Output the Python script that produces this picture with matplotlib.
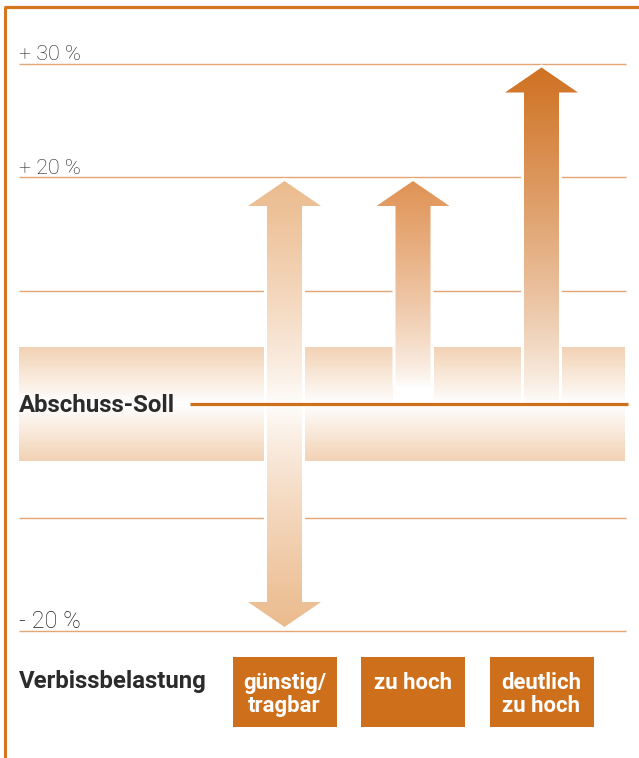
import numpy as np
import matplotlib
matplotlib.use("Agg")
import matplotlib.pyplot as plt
from matplotlib.patches import Polygon, Rectangle
from matplotlib.colors import to_rgb

# ---------------- data ----------------
categories = ["günstig/\ntragbar", "zu hoch", "deutlich\nzu hoch"]
arrow_top = [20, 20, 30]          # % above the Abschuss-Soll
arrow_bottom = [-20, 1.5, 0]      # lower end (negative -> arrow head downwards)
arrow_colors = ["#ebba8c", "#df9152", "#cf7020"]
grid_values = [30, 20, 10, -10, -20]
tick_values = [30, 20, -20]
tick_labels = ["+ 30 %", "+ 20 %", "- 20 %"]
band = [-5, 5]
soll_label = "Abschuss-Soll"
row_label = "Verbissbelastung"

# ---------------- layout (pixels) ----------------
W, H = 639, 758
PXX, PXY = 128.5, 11.35      # px per category, px per percent
X0PX, Y0PX = 284.5, 404.0    # pixel of category 0 / of 0 %

ORANGE = "#ce6f1c"
FRAME = "#d4751f"
GRID = "#e4a574"
BAND_C = "#f2d2b4"
TEXT = "#2b2b2b"
FONT = ["Roboto", "DejaVu Sans"]


def dx(px):
    return px / PXX


def dy(px):
    return px / PXY


def xp(px):
    return (px - X0PX) / PXX


def yp(px):
    return (Y0PX - px) / PXY


fig = plt.figure(figsize=(W / 100, H / 100), dpi=100)
ax = fig.add_axes([0, 0, 1, 1])
ax.set_axis_off()
ax.set_xlim(-X0PX / PXX, (W - X0PX) / PXX)
ax.set_ylim(-(H - Y0PX) / PXY, Y0PX / PXY)
renderer = fig.canvas.get_renderer()


def fit(t, target_px):
    w = t.get_window_extent(renderer).width
    t.set_fontsize(t.get_fontsize() * target_px / w)


# frame
ax.plot([xp(5.3), xp(5.3)], [yp(6.5), yp(H + 5)], color=FRAME, lw=2.2,
        solid_capstyle="butt", clip_on=False, zorder=6)
ax.plot([xp(4.2), xp(W + 5)], [yp(6.5), yp(6.5)], color=FRAME, lw=2.3,
        solid_capstyle="butt", clip_on=False, zorder=6)

# grid lines
ax.hlines(grid_values, xp(19), xp(626), color=GRID, lw=1.0, zorder=1)

# tick labels
for v, lab in zip(tick_values, tick_labels):
    t = ax.text(xp(19), v + dy(3.5), lab, ha="left", va="baseline",
                fontsize=16, fontweight="light", color="#1e1e1e",
                family=FONT, zorder=6)
    fit(t, 62)


def gradient(c, yb, yt, lower, span, n=400):
    ys = np.linspace(yb, yt, n)
    t = np.clip((np.abs(ys) - lower) / span, 0, 1) ** 0.75
    base = np.array(to_rgb(c))
    rgb = 1 - t[:, None] * (1 - base)[None, :]
    return rgb[:, None, :]


# band (Abschuss-Soll corridor)
bys = np.linspace(band[0], band[1], 300)
bt = np.abs(bys) / max(abs(band[0]), abs(band[1]))
bbase = np.array(to_rgb(BAND_C))
bimg = (1 - bt[:, None] * (1 - bbase)[None, :])[:, None, :]
ax.imshow(bimg, extent=[xp(19), xp(625), band[0], band[1]], origin="lower",
          aspect="auto", interpolation="bilinear", zorder=1.5)

sw, hw, hl, inset, gap = dx(17.5), dx(36.5), dy(25), dy(4), dx(3)

for i, (top, bot, col) in enumerate(zip(arrow_top, arrow_bottom, arrow_colors)):
    xc = i
    # white cut-out through the band
    lo = max(band[0], min(0, bot))
    hi = min(band[1], max(0, top))
    ax.add_patch(Rectangle((xc - sw - gap, lo), 2 * (sw + gap), hi - lo,
                           facecolor="white", edgecolor="none", zorder=1.6))
    ytip = top - inset
    ybase = ytip - hl
    pts = [(xc - sw, ybase), (xc - hw, ybase), (xc, ytip), (xc + hw, ybase),
           (xc + sw, ybase)]
    if bot < 0:
        btip = bot + inset
        bbase_y = btip + hl
        pts += [(xc + sw, bbase_y), (xc + hw, bbase_y), (xc, btip),
                (xc - hw, bbase_y), (xc - sw, bbase_y)]
        ylow = btip
        lower, span = 0, top
    else:
        pts += [(xc + sw, bot), (xc - sw, bot)]
        ylow = bot
        lower, span = bot, top - bot
    outline = Polygon(pts, closed=True, facecolor="white", edgecolor="white",
                      lw=4.3, joinstyle="round", zorder=3)
    ax.add_patch(outline)
    clip = Polygon(pts, closed=True, facecolor="none", edgecolor="none",
                   zorder=4)
    ax.add_patch(clip)
    img = ax.imshow(gradient(col, ylow, ytip, lower, span),
                    extent=[xc - hw, xc + hw, ylow, ytip], origin="lower",
                    aspect="auto", interpolation="bilinear", zorder=4)
    img.set_clip_path(clip)

# Abschuss-Soll line and label
ax.hlines([0], xp(190), xp(628), color=ORANGE, lw=2.3, zorder=5)
t = ax.text(xp(19), yp(412), soll_label, ha="left", va="baseline",
            fontsize=19, fontweight="bold", color=TEXT, family=FONT, zorder=6)
fit(t, 157)

# bottom row
t = ax.text(xp(19), yp(688), row_label, ha="left", va="baseline",
            fontsize=19, fontweight="bold", color=TEXT, family=FONT, zorder=6)
fit(t, 188)

probe = ax.text(0, 0, "deutlich", fontsize=16, fontweight="bold",
                family=FONT)
w = probe.get_window_extent(renderer).width
box_fs = 16 * 80 / w
probe.remove()

for i, cat in enumerate(categories):
    ax.add_patch(Rectangle((i - dx(52), yp(727)), dx(104), yp(657) - yp(727),
                           facecolor=ORANGE, edgecolor="none", zorder=5))
    for k, line in enumerate(cat.split("\n")):
        ax.text(i, yp(689 + 23 * k), line, ha="center", va="baseline",
                fontsize=box_fs, fontweight="bold", color="white",
                family=FONT, zorder=6)

ax.set_xlim(-X0PX / PXX, (W - X0PX) / PXX)
ax.set_ylim(-(H - Y0PX) / PXY, Y0PX / PXY)

fig.savefig("out.png", dpi=100, facecolor="white")
